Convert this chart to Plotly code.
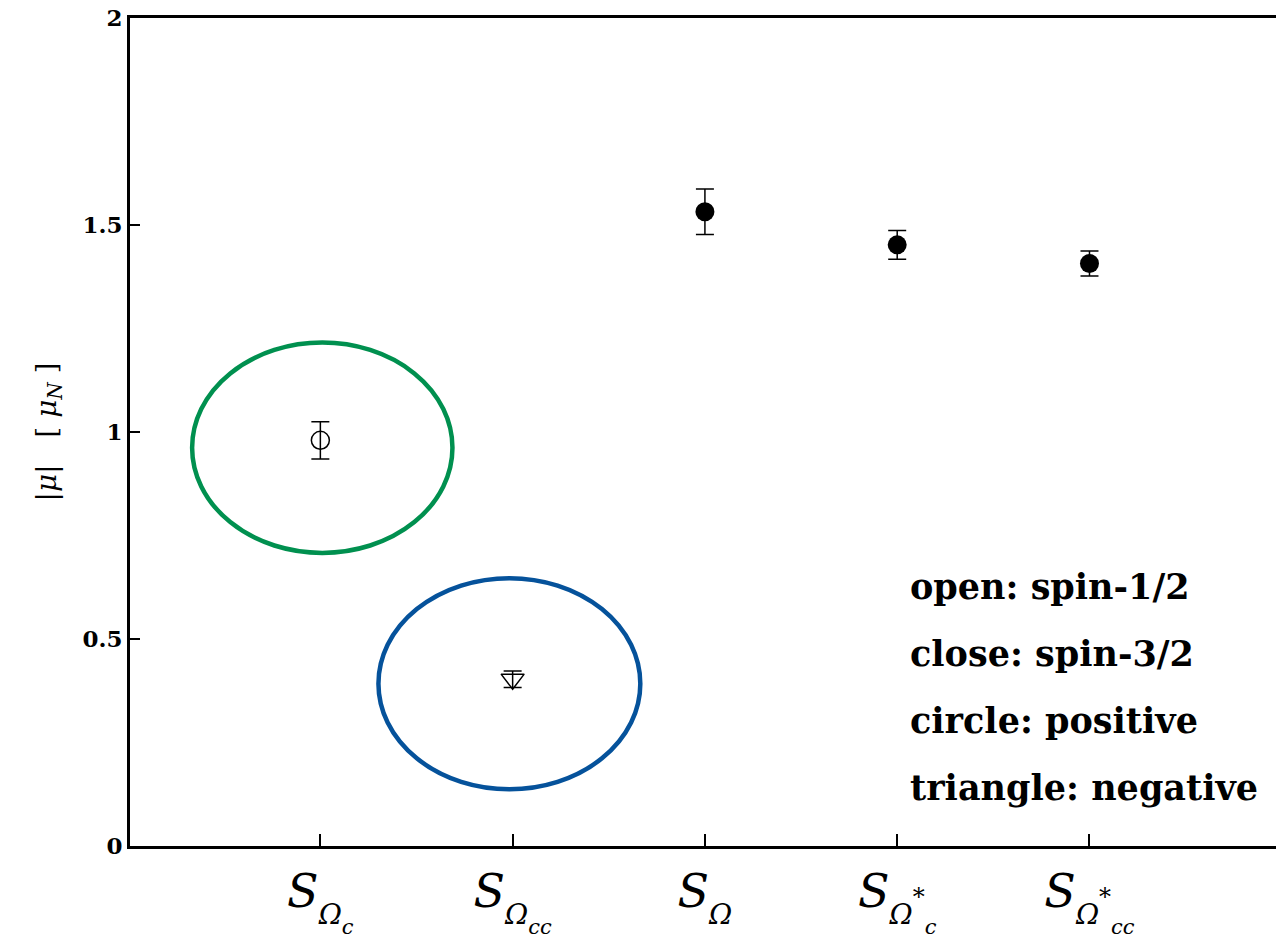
import plotly.graph_objects as go

# Magnetic moment magnitudes |mu| in nuclear magnetons for each state
categories = [1, 2, 3, 4, 5]


def sub_label(sup="", subsub=""):
    """S with an italic Omega subscript, optional star and lower second-level subscript."""
    parts = '<span style="font-size:28px;baseline-shift:-7px"><i>Ω</i></span>'
    if sup:
        parts += '<span style="font-size:24px;baseline-shift:12px">' + sup + '</span>'
    if subsub:
        parts += ('<span style="font-size:21px;baseline-shift:-17px"><i>'
                  + subsub + '</i></span>')
    return "<i>S</i><sub>" + parts + "</sub>"


tick_labels = [
    sub_label("", "c"),
    sub_label("", "cc"),
    sub_label(),
    sub_label("*", "c"),
    sub_label("*", "cc"),
]

# spin-1/2, positive moment (open circle)
open_circle_x = [1]
open_circle_y = [0.98]
open_circle_err = [0.045]

# spin-1/2, negative moment (open triangle)
open_tri_x = [2]
open_tri_y = [0.403]
open_tri_err = [0.02]

# spin-3/2, positive moment (filled circles)
closed_x = [3, 4, 5]
closed_y = [1.532, 1.452, 1.407]
closed_err = [0.055, 0.035, 0.03]

# highlight ellipses: (x center, y center, x radius, y radius, colour)
ellipses = [
    (1.01, 0.962, 0.677, 0.254, "#00904f"),
    (1.983, 0.392, 0.681, 0.255, "#05529b"),
]

legend_lines = [
    "open: spin-1/2",
    "close: spin-3/2",
    "circle: positive",
    "triangle: negative",
]

serif = "DejaVu Serif"

fig = go.Figure()

err_style = dict(type="data", thickness=1.5, width=9, color="black")

fig.add_trace(go.Scatter(
    x=open_circle_x, y=open_circle_y, mode="markers",
    error_y=dict(array=open_circle_err, **err_style),
    marker=dict(symbol="circle-open", size=18, color="black", line=dict(width=1.5)),
    showlegend=False,
))
fig.add_trace(go.Scatter(
    x=open_tri_x, y=open_tri_y, mode="markers",
    error_y=dict(array=open_tri_err, **err_style),
    marker=dict(symbol="triangle-down-open", size=20, color="black", line=dict(width=1.5)),
    showlegend=False,
))
fig.add_trace(go.Scatter(
    x=closed_x, y=closed_y, mode="markers",
    error_y=dict(array=closed_err, **err_style),
    marker=dict(symbol="circle", size=19, color="black"),
    showlegend=False,
))

for cx, cy, rx, ry, col in ellipses:
    fig.add_shape(type="circle", xref="x", yref="y",
                  x0=cx - rx, x1=cx + rx, y0=cy - ry, y1=cy + ry,
                  line=dict(color=col, width=4.5), layer="above")

legend_y = [0.628, 0.464, 0.304, 0.1425]
for txt, yy in zip(legend_lines, legend_y):
    fig.add_annotation(x=4.056, y=yy, xref="x", yref="y", text="<b>" + txt + "</b>",
                       showarrow=False, xanchor="left", yanchor="middle",
                       font=dict(family=serif, size=35, color="black"))

fig.update_layout(
    width=1276, height=942,
    margin=dict(l=130, r=0, t=18, b=96, autoexpand=False),
    paper_bgcolor="white", plot_bgcolor="white",
    font=dict(family=serif, color="black"),
    xaxis=dict(
        range=[0.01, 5.97], tickmode="array", tickvals=categories, ticktext=tick_labels,
        ticks="inside", ticklen=12, tickwidth=2, tickcolor="black",
        showline=True, linewidth=3, linecolor="black", mirror=False,
        showgrid=False, zeroline=False, ticklabelstandoff=3, automargin=False,
        tickfont=dict(family=serif, size=46, color="black"),
    ),
    xaxis2=dict(overlaying="x", side="top", range=[0.01, 5.97], showticklabels=False,
                showline=True, linewidth=3, linecolor="black", showgrid=False,
                zeroline=False, ticks=""),
    yaxis=dict(
        range=[0, 2], tickmode="array", tickvals=[0, 0.5, 1, 1.5, 2],
        ticktext=["<b>0</b>", "<b>0.5</b>", "<b>1</b>", "<b>1.5</b>", "<b>2</b>"],
        ticks="inside", ticklen=10, tickwidth=2, tickcolor="black",
        showline=True, linewidth=3, linecolor="black",
        showgrid=False, zeroline=False, automargin=False,
        tickfont=dict(family=serif, size=23, color="black"),
        title=dict(text="|<i>μ</i>|   [ <i>μ</i><sub><i>N</i></sub> ]",
                   font=dict(family=serif, size=28, color="black"), standoff=18),
    ),
)

# empty trace on the top axis so its frame line is drawn
fig.add_trace(go.Scatter(x=[None], y=[None], xaxis="x2", showlegend=False))

fig.write_html("out.html")
